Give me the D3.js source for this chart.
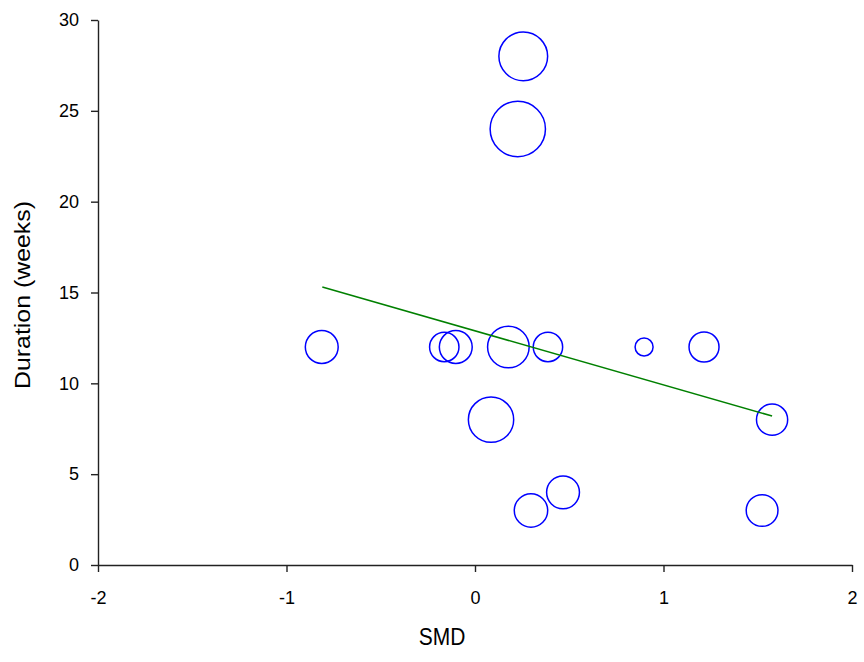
<!DOCTYPE html>
<html>
<head>
<meta charset="utf-8">
<script src="https://cdn.jsdelivr.net/npm/d3@7"></script>
<style>
  body { margin: 0; background: #fff; }
  text { font-family: "Liberation Sans", Arial, sans-serif; }
</style>
</head>
<body>
<div id="chart"></div>
<script>
// study data: effect size, duration, weight
var smd      = [0.256, 0.227, -0.813, -0.163, -0.102, 0.177, 0.387, 0.085, 0.897, 1.215, 1.576, 1.523, 0.297, 0.467];
var duration = [28, 24, 12, 12, 12, 12, 12, 8, 12, 12, 8, 3, 3, 4];
var weight   = [66, 85, 30, 24, 30, 48, 24, 57, 9, 25, 27, 28, 31, 30];

// meta-regression line
var fitX = [-0.81, 1.576];
var fitY = [15.3, 8.2];

var xTicks = [-2, -1, 0, 1, 2];
var yTicks = [0, 5, 10, 15, 20, 25, 30];

var chart_width  = 864;
var chart_height = 662;
var padLeft = 98, padRight = 852, padTop = 20, padBottom = 565;

var svg = d3.select('#chart')
  .append('svg')
  .attr('width', chart_width)
  .attr('height', chart_height);

var x_scale = d3.scaleLinear()
  .domain([-2, 2])
  .range([padLeft, padRight]);

var y_scale = d3.scaleLinear()
  .domain([0, 30])
  .range([padBottom, padTop]);

var r_scale = d3.scaleSqrt()
  .domain([0, 100])
  .range([0, 30]);

// axes
var xAxis = d3.axisBottom(x_scale)
  .tickValues(xTicks)
  .tickSizeInner(7)
  .tickSizeOuter(0)
  .tickPadding(19)
  .tickFormat(function(d){ return String(d); });

var yAxis = d3.axisLeft(y_scale)
  .tickValues(yTicks)
  .tickSizeInner(7)
  .tickSizeOuter(0)
  .tickPadding(12)
  .tickFormat(function(d){ return String(d); });

var gx = svg.append('g')
  .attr('transform', 'translate(0,' + padBottom + ')')
  .call(xAxis);

var gy = svg.append('g')
  .attr('transform', 'translate(' + padLeft + ',0)')
  .call(yAxis);

[gx, gy].forEach(function(g){
  g.select('.domain').attr('stroke', '#222').attr('stroke-width', 1.4);
  g.selectAll('.tick line').attr('stroke', '#222').attr('stroke-width', 1.4);
  g.selectAll('.tick text').attr('font-size', 18).attr('fill', '#000')
    .attr('font-family', '"Liberation Sans", Arial, sans-serif');
});

// bubbles
var pts = smd.map(function(d, i){
  return { x: d, y: duration[i], w: weight[i] };
});

svg.selectAll('circle')
  .data(pts)
  .enter()
  .append('circle')
  .attr('cx', function(d){ return x_scale(d.x); })
  .attr('cy', function(d){ return y_scale(d.y); })
  .attr('r', function(d){ return r_scale(d.w); })
  .attr('fill', 'none')
  .attr('stroke', '#0000ff')
  .attr('stroke-width', 1.5);

// regression line
svg.append('line')
  .attr('x1', x_scale(fitX[0]))
  .attr('y1', y_scale(fitY[0]))
  .attr('x2', x_scale(fitX[1]))
  .attr('y2', y_scale(fitY[1]))
  .attr('stroke', '#008000')
  .attr('stroke-width', 1.5);

// axis titles (slightly stretched vertically like the original)
svg.append('text')
  .attr('transform', 'translate(442,645) scale(1,1.15)')
  .attr('text-anchor', 'middle')
  .attr('font-size', 21)
  .text('SMD');

svg.append('text')
  .attr('transform', 'translate(30,295) rotate(-90) scale(1.13,1)')
  .attr('text-anchor', 'middle')
  .attr('font-size', 22)
  .text('Duration (weeks)');
</script>
</body>
</html>
